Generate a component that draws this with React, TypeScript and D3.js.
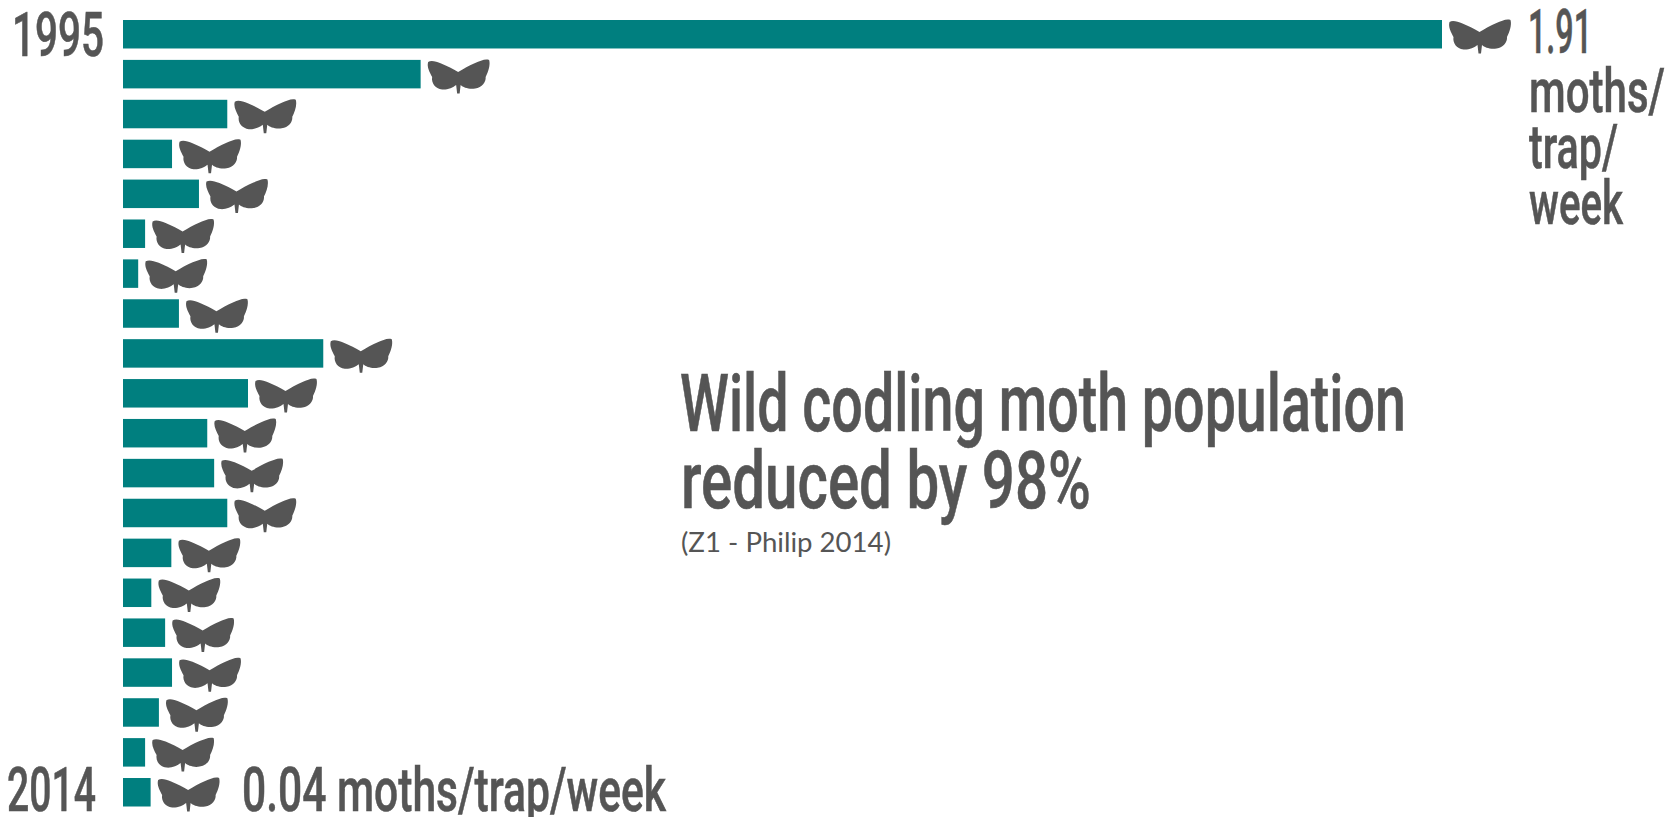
import React from "react";
import * as d3 from "d3";

const years = ["1995","1996","1997","1998","1999","2000","2001","2002","2003","2004","2005","2006","2007","2008","2009","2010","2011","2012","2013","2014"];
const mothsPerTrap = [1.91,0.431,0.151,0.071,0.11,0.032,0.022,0.081,0.29,0.181,0.122,0.132,0.151,0.07,0.041,0.061,0.071,0.052,0.032,0.04];
const topValueLines = ["1.91","moths/","trap/","week"];
const titleLines = ["Wild codling moth population","reduced by 98%"];
const sourceNote = "(Z1 - Philip 2014)";
const bottomLabel = "0.04 moths/trap/week";

const TEAL = "#007f7f";
const GREY = "#555555";
const HEAD = "'Roboto',sans-serif";

const MOTH = "M1,3 C4,1 9,2.5 14,4.5 C20,7 26,10 31,13 C36,10 42,6.5 48,4 C53,2 58,-0.5 62,1 C63.5,6 61,13 58.5,18 C59,23 55,28.5 48,29.5 C42,30.5 36,28.5 33.5,26 L32.5,34.5 L30,34.5 L29,26 C26,28.5 20,31 15,30.5 C8,29.5 4,24 5,18 C2.5,13 -0.5,8 1,3 Z";

function Label({x,y,w,size,children}:{x:number;y:number;w:number;size:number;children:string}) {
  return <text x={x} y={y} textLength={w} lengthAdjust="spacingAndGlyphs" fontFamily={HEAD} fontWeight={500} fontSize={size} fill={GREY} stroke={GREY} strokeWidth={0.6}>{children}</text>;
}

export default function App() {
  const x = d3.scaleLinear().domain([0,1.91]).range([123,1442]);
  const y = d3.scaleBand<string>().domain(years).range([20,806.5]).paddingInner(0.286);
  return (
    <svg width={1667} height={817} style={{position:"absolute",left:0,top:0,background:"#fff"}}>
      <defs>
        <filter id="soft" x="-5%" y="-5%" width="110%" height="110%"><feGaussianBlur stdDeviation="0.6"/></filter>
        <path id="moth" d={MOTH} fill={GREY} filter="url(#soft)"/>
      </defs>
      {years.map((yr,i)=>(
        <g key={yr}>
          <rect x={x(0)} y={y(yr)} width={x(mothsPerTrap[i])-x(0)} height={y.bandwidth()} fill={TEAL}/>
          <use href="#moth" x={x(mothsPerTrap[i])+6.5} y={(y(yr) as number)-1}/>
        </g>
      ))}
      <Label x={12} y={56} w={92} size={61}>{years[0]}</Label>
      <Label x={7} y={811} w={89} size={61}>{years[19]}</Label>
      <Label x={242} y={811} w={424} size={61}>{bottomLabel}</Label>
      <Label x={1528} y={53} w={64} size={61}>{topValueLines[0]}</Label>
      <Label x={1529} y={112} w={136} size={61}>{topValueLines[1]}</Label>
      <Label x={1529} y={168} w={89} size={61}>{topValueLines[2]}</Label>
      <Label x={1529} y={224} w={94} size={61}>{topValueLines[3]}</Label>
      <Label x={680} y={431} w={726} size={79}>{titleLines[0]}</Label>
      <Label x={681} y={508} w={410} size={79}>{titleLines[1]}</Label>
      <text x={681} y={552} textLength={210} lengthAdjust="spacingAndGlyphs" fontFamily="Lato,sans-serif" fontSize={26} fill={GREY}>{sourceNote}</text>
    </svg>
  );
}
